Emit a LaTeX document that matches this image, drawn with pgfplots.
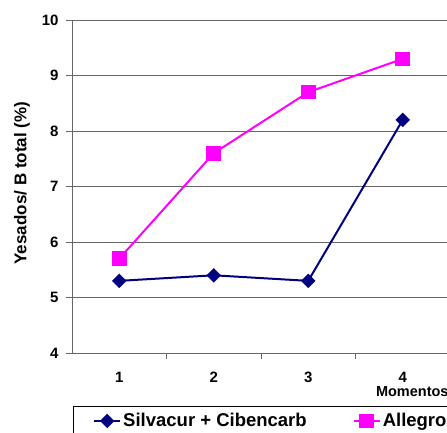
\documentclass[border=0pt]{standalone}
\usepackage{fontspec}
\setmainfont{Liberation Sans}
\usepackage{pgfplots}
\pgfplotsset{compat=1.18}
\definecolor{navyblue}{RGB}{0,0,128}
\definecolor{magentap}{RGB}{255,0,255}
\begin{document}
\begin{tikzpicture}
\useasboundingbox (0,0) rectangle (447pt,432pt);
\begin{axis}[
  at={(72pt,79pt)}, anchor=south west,
  scale only axis, width=378pt, height=333pt,
  xmin=0.5, xmax=4.5, ymin=4, ymax=10,
  axis lines=left, axis line style={-, line width=1pt, black!60},
  tick align=outside, major tick length=6pt,
  tick style={black!60, line width=1pt},
  /pgf/number format/assume math mode=true,
  xtick={1.5,2.5,3.5}, xticklabels={},
  extra x ticks={1,2,3,4},
  extra x tick labels={1,2,3,4},
  extra x tick style={major tick length=0pt, tick style={draw=none},
     tick label style={anchor=center, yshift=-24pt}},
  ytick={4,5,6,7,8,9,10},
  yticklabel style={xshift=-4pt},
  tick label style={font=\bfseries\fontsize{15}{15}\selectfont},
  ymajorgrids, major grid style={black!60, line width=1pt},
  ylabel={Yesados/ B total (\%)},
  ylabel style={at={(axis description cs:-0.132,0.51)}, anchor=center, rotate=0,
     font=\bfseries\fontsize{17}{17}\selectfont},
  xlabel={Momentos},
  xlabel style={at={(axis description cs:0.795,-0.117)}, anchor=west,
     font=\bfseries\fontsize{14.5}{14.5}\selectfont},
  legend columns=2,
  legend style={at={(axis description cs:0.0556,-0.204)}, anchor=west,
     draw=none, fill=none, inner sep=0pt,
     font=\bfseries\fontsize{18.5}{18.5}\selectfont,
     /tikz/every even column/.append style={column sep=44pt}},
  legend image code/.code={\draw[mark repeat=2,mark phase=2] plot coordinates {(0pt,0pt) (13pt,0pt) (26pt,0pt)};},
]
\addplot[color=navyblue, line width=2pt, mark=square*, mark size=4.1pt,
  mark options={solid, rotate=45, fill=navyblue}]
  coordinates {(1,5.3) (2,5.4) (3,5.3) (4,8.2)};
\addlegendentry{Silvacur + Cibencarb}
\addplot[color=magentap, line width=2pt, mark=square*, mark size=6.3pt,
  mark options={solid, fill=magentap}]
  coordinates {(1,5.7) (2,7.6) (3,8.7) (4,9.3)};
\addlegendentry{Allegro}
\end{axis}
\draw[black, line width=0.9pt] (73pt,26pt) rectangle (470pt,-20pt);
\end{tikzpicture}
\end{document}
